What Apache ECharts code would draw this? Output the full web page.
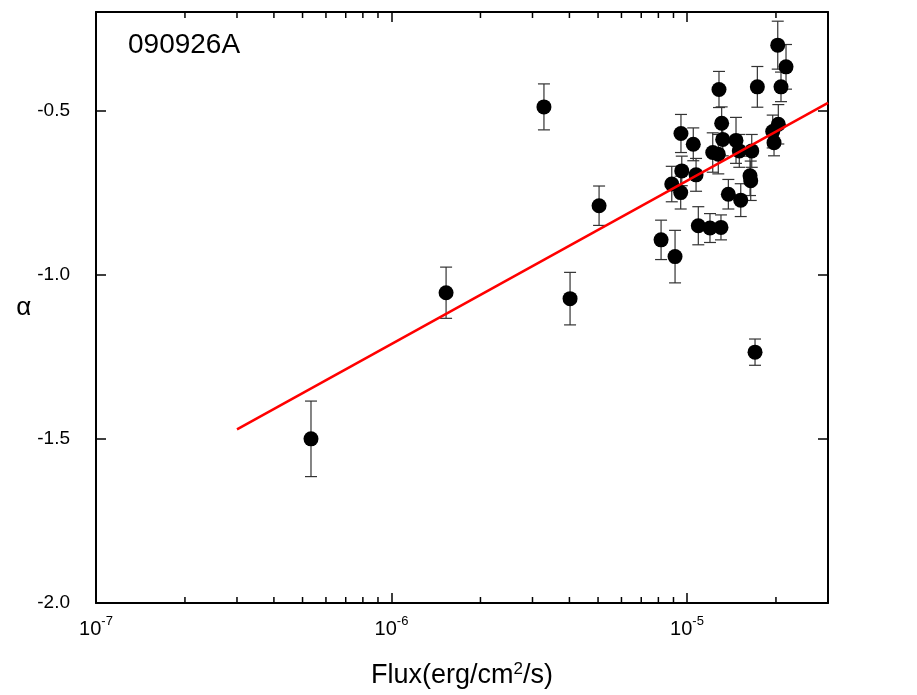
<!DOCTYPE html>
<html>
<head>
<meta charset="utf-8">
<script src="https://cdn.jsdelivr.net/npm/echarts@6/dist/echarts.min.js"></script>
<style>
  html, body { margin: 0; padding: 0; background: #fff; }
  #chart { width: 917px; height: 695px; }
</style>
</head>
<body>
<div id="chart"></div>
<script>
// flux (erg/cm^2/s), alpha and its error
const flux = [
  5.34e-7, 1.53e-6, 3.28e-6, 4.02e-6, 5.04e-6,
  8.17e-6, 9.11e-6, 8.88e-6, 9.54e-6, 9.60e-6, 9.52e-6,
  1.05e-5, 1.073e-5, 1.092e-5, 1.196e-5, 1.222e-5, 1.276e-5,
  1.283e-5, 1.303e-5, 1.31e-5, 1.321e-5, 1.38e-5, 1.465e-5,
  1.503e-5, 1.52e-5, 1.634e-5, 1.643e-5, 1.656e-5, 1.699e-5,
  1.73e-5, 1.95e-5, 1.97e-5, 2.028e-5, 2.037e-5, 2.08e-5, 2.163e-5
];
const alpha = [
  -1.50, -1.055, -0.489, -1.073, -0.790,
  -0.894, -0.945, -0.724, -0.570, -0.684, -0.750,
  -0.603, -0.696, -0.851, -0.858, -0.628, -0.633,
  -0.436, -0.856, -0.539, -0.588, -0.755, -0.591,
  -0.623, -0.773, -0.699, -0.714, -0.623, -1.236,
  -0.428, -0.564, -0.598, -0.301, -0.542, -0.428, -0.367
];
const alphaErr = [
  0.115, 0.078, 0.07, 0.08, 0.06,
  0.06, 0.08, 0.054, 0.058, 0.045, 0.05,
  0.05, 0.05, 0.058, 0.044, 0.06, 0.06,
  0.055, 0.038, 0.05, 0.05, 0.045, 0.07,
  0.05, 0.05, 0.06, 0.06, 0.05, 0.04,
  0.062, 0.05, 0.04, 0.073, 0.06, 0.045, 0.068
];

// linear fit in log space
const fitX = [3e-7, 3e-5];
const fitY = [-1.471, -0.477];

const minorTicks = [
  2e-7, 3e-7, 4e-7, 5e-7, 6e-7, 7e-7, 8e-7, 9e-7,
  2e-6, 3e-6, 4e-6, 5e-6, 6e-6, 7e-6, 8e-6, 9e-6,
  2e-5
];
const yTicks = [-2.0, -1.5, -1.0, -0.5];

const FONT = '"Liberation Sans", Arial, sans-serif';

const chart = echarts.init(document.getElementById('chart'));

const points = flux.map((f, i) => [f, alpha[i]]);
const errData = flux.map((f, i) => [f, alpha[i] - alphaErr[i], alpha[i] + alphaErr[i]]);

function expLabel(v) {
  const p = Math.log10(v);
  if (Math.abs(p - Math.round(p)) > 1e-6) return '';
  return '{b|10}{s|' + Math.round(p) + '}';
}

const richLabel = {
  b: { fontSize: 20, fontFamily: FONT, color: '#000', verticalAlign: 'bottom', lineHeight: 24 },
  s: { fontSize: 13, fontFamily: FONT, color: '#000', verticalAlign: 'top', lineHeight: 24, padding: [0, 0, 11, 0] }
};

const frameAxis = {
  axisLine: { show: true, onZero: false, lineStyle: { color: '#000', width: 2 } },
  axisTick: { show: true, inside: true, length: 10, lineStyle: { color: '#000', width: 1.5 } },
  splitLine: { show: false }
};

chart.setOption({
  animation: false,
  backgroundColor: '#fff',
  grid: { left: 96, top: 12, width: 732, height: 591, containLabel: false },
  graphic: [{
    type: 'text',
    left: 128,
    top: 31,
    style: { text: '090926A', font: '28px ' + FONT, fill: '#000' }
  }],
  xAxis: [{
    ...frameAxis,
    type: 'log',
    logBase: 10,
    min: 1e-7,
    max: 3e-5,
    position: 'bottom',
    name: 'Flux(erg/cm{s|2}/s)',
    nameLocation: 'middle',
    nameGap: 58,
    nameTextStyle: {
      fontSize: 27, fontFamily: FONT, color: '#000',
      rich: {
        s: { fontSize: 17, fontFamily: FONT, color: '#000', padding: [0, 0, 13, 0] }
      }
    },
    axisLabel: { margin: 12, formatter: expLabel, rich: richLabel, showMaxLabel: false }
  }, {
    ...frameAxis,
    type: 'log',
    logBase: 10,
    min: 1e-7,
    max: 3e-5,
    position: 'top',
    axisLabel: { show: false }
  }],
  yAxis: [{
    ...frameAxis,
    type: 'value',
    min: -2.0,
    max: -0.2,
    interval: 0.5,
    position: 'left',
    name: 'α',
    nameLocation: 'middle',
    nameGap: 55,
    nameRotate: 0,
    nameTextStyle: { fontSize: 26, fontFamily: FONT, color: '#000', padding: [26, 0, 0, 0] },
    axisLabel: {
      margin: 26, fontSize: 19, fontFamily: FONT, color: '#000',
      formatter: v => (yTicks.some(t => Math.abs(t - v) < 1e-6) ? v.toFixed(1) : '')
    }
  }, {
    ...frameAxis,
    type: 'value',
    min: -2.0,
    max: -0.2,
    interval: 0.5,
    position: 'right',
    axisLabel: { show: false }
  }],
  series: [{
    // minor ticks on log axis (2..9 per decade), bottom and top
    type: 'custom',
    silent: true,
    z: 5,
    data: minorTicks.map(v => [v]),
    renderItem: (params, api) => {
      const x = api.coord([api.value(0), -2.0])[0];
      const cs = params.coordSys;
      const bottom = cs.y + cs.height;
      const top = cs.y;
      return {
        type: 'group',
        children: [
          { type: 'line', shape: { x1: x, y1: bottom, x2: x, y2: bottom - 6 }, style: { stroke: '#000', lineWidth: 1.5 } },
          { type: 'line', shape: { x1: x, y1: top, x2: x, y2: top + 6 }, style: { stroke: '#000', lineWidth: 1.5 } }
        ]
      };
    }
  }, {
    // vertical error bars
    type: 'custom',
    silent: true,
    z: 3,
    data: errData,
    renderItem: (params, api) => {
      const lo = api.coord([api.value(0), api.value(1)]);
      const hi = api.coord([api.value(0), api.value(2)]);
      const w = 6;
      const st = { stroke: '#333', lineWidth: 1.2 };
      return {
        type: 'group',
        children: [
          { type: 'line', shape: { x1: lo[0], y1: lo[1], x2: hi[0], y2: hi[1] }, style: st },
          { type: 'line', shape: { x1: lo[0] - w, y1: lo[1], x2: lo[0] + w, y2: lo[1] }, style: st },
          { type: 'line', shape: { x1: hi[0] - w, y1: hi[1], x2: hi[0] + w, y2: hi[1] }, style: st }
        ]
      };
    }
  }, {
    type: 'scatter',
    z: 4,
    symbol: 'circle',
    symbolSize: 15,
    itemStyle: { color: '#000', opacity: 1 },
    data: points
  }, {
    type: 'line',
    z: 6,
    showSymbol: false,
    symbol: 'none',
    lineStyle: { color: '#ff0000', width: 2.5 },
    data: fitX.map((x, i) => [x, fitY[i]])
  }]
});
</script>
</body>
</html>
